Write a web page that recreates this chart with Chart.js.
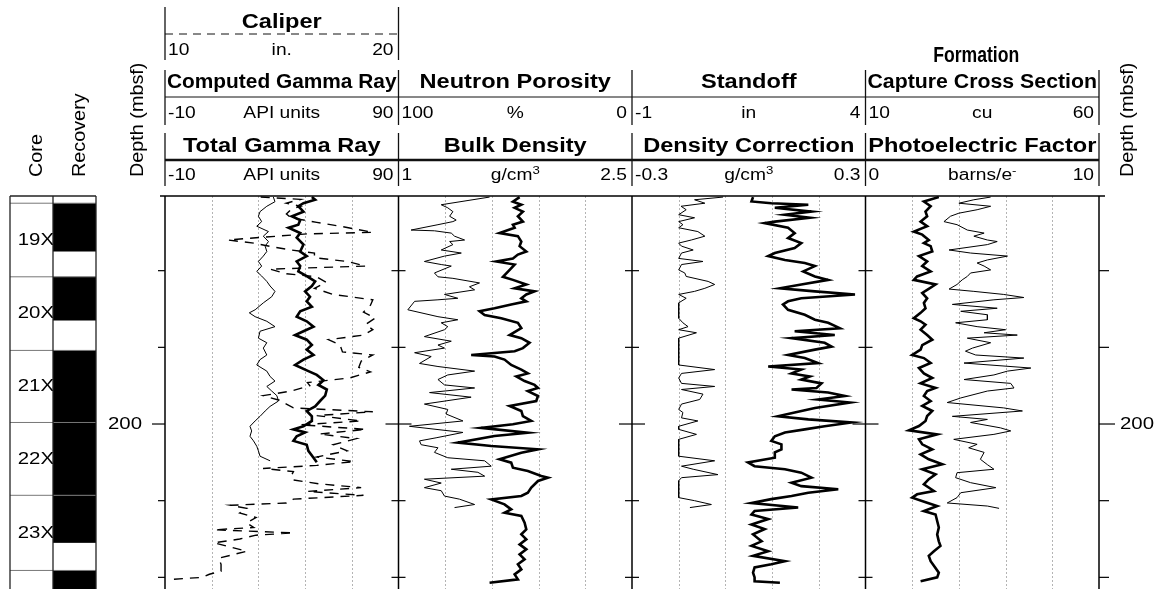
<!DOCTYPE html>
<html>
<head>
<meta charset="utf-8">
<script src="https://cdn.jsdelivr.net/npm/chart.js@4.4.1/dist/chart.umd.min.js"></script>
<style>
  html, body { margin: 0; padding: 0; background: #fff; }
  canvas { display: block; }
</style>
</head>
<body>
<canvas id="logChart" width="1168" height="589"></canvas>
<script>
// Depth window and depth ticks (mbsf)
const depthMin = 170.26;
const depthMax = 221.52;
const depthTicks = [170, 180, 190, 200, 210, 220];
const depthLabels = [200];

// Cores and recovered intervals (mbsf)
const coreNames = ['18X', '19X', '20X', '21X', '22X', '23X', '24X'];
const coreTop = [161.6, 171.2, 180.8, 190.4, 199.8, 209.3, 219.1];
const coreBottom = [171.2, 180.8, 190.4, 199.8, 209.3, 219.1, 228.7];
const recoveryBottom = [168.0, 177.5, 186.5, 199.8, 209.3, 215.5, 228.7];

// Track 1 : [depth, value]
const computedGR = [[170.4,36.4],[171.0,37.1],[171.6,33.6],[172.3,30.7],[172.9,30],[173.6,31.4],[174.2,29.3],[174.9,34.3],[175.5,32.1],[176.2,34.3],[176.8,32.9],[177.5,33.6],[178.1,32.1],[178.8,30],[179.4,31.4],[180.1,29.3],[180.7,31.4],[181.4,33.6],[182.0,35],[182.7,37.1],[183.4,35.7],[184.2,32.1],[185.1,28.6],[185.5,26.1],[186.0,28.6],[186.6,33.6],[187.3,37.1],[187.9,30.7],[188.8,30],[189.4,33.6],[190.1,32.1],[191.0,33.6],[191.6,30.7],[192.3,29.3],[193.1,33.6],[193.8,35],[194.4,37.1],[195.1,33.6],[195.7,35.7],[196.3,37.9],[197.0,38.6],[197.7,35],[198.3,32.9],[199.0,30.7],[199.6,28.6],[200.3,26.4],[200.9,27.1],[201.6,26.4],[202.2,27.9],[202.9,29.3],[203.5,30],[204.2,30.7],[204.8,35]];
const totalGR = [[170.4,52.9],[170.75,54.3],[171.2,49.3],[171.6,47.1],[172.3,49.3],[172.9,44.3],[173.4,47.9],[174.0,47.1],[174.4,42.9],[175.1,47.9],[175.7,46.4],[176.6,49.3],[177.5,47.9],[178.1,50.7],[178.8,46.4],[179.4,47.9],[180.1,47.1],[180.7,50.7],[181.4,54.3],[182.0,52.9],[182.7,50],[183.4,52.1],[184.0,50.7],[184.7,52.9],[185.3,47.9],[186.0,46.4],[186.6,50.7],[187.3,53.6],[187.9,49.3],[188.4,45.7],[189.0,50.7],[189.7,52.9],[190.3,50.7],[191.0,53.6],[191.6,49.3],[192.3,45.7],[193.0,50.7],[193.6,55],[194.3,57.9],[194.9,55.7],[195.5,59.3],[196.3,58.6],[197.0,56.4],[197.7,54.3],[198.3,50.7],[199.0,52.9],[199.6,52.9],[200.3,49.3],[200.7,45],[201.1,50],[201.6,46.4],[202.2,45],[202.7,50.7],[203.5,51.4],[204.4,53.6],[205.0,55]];
const caliper = [[170.4,14.1],[170.7,15.8],[171.2,15.2],[171.6,15.8],[172.0,15.4],[172.6,15.2],[173.1,15.4],[173.7,16.5],[174.2,17.5],[175.0,18.9],[175.2,16.1],[175.8,13.5],[176.0,12.7],[176.4,13.8],[176.9,14.6],[177.3,15.4],[177.7,16.4],[178.3,16.4],[178.8,17.8],[179.4,18.6],[179.8,14.5],[180.4,15.2],[180.8,16.5],[181.5,16.9],[182.3,16.4],[183.1,17.2],[183.8,18.9],[184.5,18.8],[185.4,18.5],[186.2,19],[187.0,18.6],[187.7,18.9],[188.4,18.5],[189.0,17],[189.7,17.5],[190.6,17.6],[191.0,18.9],[191.8,18.4],[192.6,18.3],[193.2,18.8],[194.0,17.9],[194.6,16.1],[195.0,16.2],[195.7,15.4],[196.3,14.2],[196.9,14.9],[197.4,15.2],[197.9,15.5],[198.4,18.9],[198.9,16.5],[199.6,18.4],[200.1,15.8],[200.7,18.6],[201.3,16.6],[201.9,18.2],[202.7,17.2],[203.5,17.8],[204.3,16.5],[204.9,18.1],[205.4,16.5],[205.8,14.2],[206.2,15.5],[206.8,15.4],[207.3,15.5],[207.8,16.6],[208.3,18.4],[208.8,16.1],[209.3,18.5],[209.8,15.5],[210.3,15.2],[210.6,12.8],[211.0,13.5],[211.6,13.2],[212.2,13.9],[212.9,13.5],[213.5,13.8],[213.8,12.1],[214.2,15.5],[214.5,13.9],[215.0,13.2],[215.5,12.1],[216.6,13.5],[217.5,12.3],[218.3,12.4],[219.2,12.4],[219.6,11.9],[220.0,11.6],[220.3,10.1]];

// Track 2
const neutronPorosity = [[170.4,61],[171.4,81.7],[171.8,78.9],[172.3,76.7],[172.9,78.1],[173.4,75.3],[173.6,76.7],[174.0,83.1],[174.7,94.6],[174.8,84.6],[175.1,77.4],[175.5,76],[176.0,71.7],[176.2,78.1],[176.6,76.7],[177.3,81.7],[177.7,73.1],[178.1,80.3],[178.8,88.9],[179.2,81.7],[179.4,77.4],[180.3,84.6],[180.8,83.1],[181.0,76.7],[181.6,65.3],[182.1,69.6],[182.5,67.4],[183.1,80.3],[183.6,74.6],[183.8,83.1],[184.0,93.1],[185.1,96],[186.0,83.1],[186.4,74.6],[186.8,81.7],[187.3,78.9],[187.7,80.3],[188.6,88.9],[189.2,77.4],[189.7,83.1],[190.1,80.3],[190.7,93.1],[191.2,86],[192.1,91],[192.5,83.1],[193.1,67.4],[193.6,78.9],[194.2,83.1],[194.9,80.3],[195.3,67.4],[195.9,86.7],[196.5,68.9],[197.4,88.9],[198.1,78.9],[198.7,79.6],[199.6,72.4],[200.3,95.3],[201.1,72.4],[201.8,83.9],[202.2,91],[202.7,90.3],[203.1,83.1],[203.7,84.6],[204.4,78.9],[204.8,63.1],[205.5,60.3],[205.9,77.4],[206.3,66],[206.8,63.1],[207.2,88.9],[207.7,81.7],[208.3,88.9],[208.7,81.7],[209.4,80.3],[209.8,73.9],[210.5,67.4],[210.9,76]];
const bulkDensity = [[170.4,1.778],[171.0,1.735],[171.4,1.789],[171.8,1.746],[172.3,1.799],[172.9,1.767],[173.6,1.799],[174.0,1.735],[174.4,1.746],[175.1,1.649],[175.5,1.767],[176.2,1.789],[176.8,1.778],[177.5,1.821],[177.9,1.767],[178.4,1.735],[178.8,1.628],[179.2,1.746],[179.9,1.714],[180.8,1.671],[181.2,1.735],[181.8,1.821],[182.3,1.746],[182.7,1.874],[183.1,1.821],[183.6,1.789],[184.0,1.821],[184.4,1.724],[184.9,1.617],[185.3,1.521],[185.8,1.553],[186.2,1.66],[186.8,1.767],[187.5,1.789],[188.4,1.714],[188.8,1.789],[189.4,1.842],[190.1,1.799],[190.5,1.746],[191.0,1.467],[191.2,1.617],[191.6,1.681],[192.3,1.724],[192.9,1.789],[193.4,1.831],[193.8,1.757],[194.4,1.81],[194.9,1.874],[195.3,1.896],[195.7,1.831],[196.35,1.896],[197.0,1.885],[197.65,1.714],[198.3,1.789],[198.96,1.799],[199.6,1.853],[200.04,1.735],[200.5,1.531],[201.13,1.831],[201.57,1.617],[202.43,1.381],[202.87,1.596],[203.3,1.896],[203.74,1.789],[204.6,1.649],[205.04,1.724],[205.7,1.735],[206.13,1.831],[206.78,1.917],[207.0,1.96],[207.43,1.896],[208.3,1.853],[208.96,1.831],[209.39,1.789],[209.83,1.596],[210.48,1.681],[211.13,1.724],[211.57,1.681],[212.0,1.789],[212.87,1.81],[213.74,1.821],[214.39,1.789],[215.04,1.821],[215.7,1.778],[216.35,1.821],[217.0,1.778],[217.65,1.81],[218.3,1.767],[218.96,1.789],[219.61,1.746],[220.26,1.767],[220.7,1.585]];

// Track 3
const standoff = [[170.4,0.95],[170.75,0.34],[171.2,0.56],[171.6,0.05],[172.05,0.16],[172.7,0],[173.1,0.34],[173.6,0],[174.0,0.09],[174.4,0],[174.9,0.41],[175.5,0.56],[176.0,0.27],[176.4,0],[176.8,0.06],[177.3,0.31],[177.7,0.06],[178.4,0],[178.8,0.52],[179.2,0.06],[179.9,0],[180.3,0.13],[180.75,0.16],[181.4,0.63],[181.8,0.77],[182.3,0.56],[182.7,0.34],[183.1,0],[183.6,0.16],[184.2,0],[186.2,0],[186.8,0.09],[187.3,0.2],[187.7,0],[188.1,0.38],[188.8,0],[192.3,0],[192.9,0.77],[193.4,0.06],[194.0,0],[194.7,0.06],[195.1,0.77],[195.5,0.06],[196.1,0.52],[196.8,0.45],[197.4,0.06],[198.1,0],[198.5,0.09],[199.2,0.06],[199.6,0.41],[200.3,0],[200.7,0],[201.35,0.38],[202.0,0],[204.2,0],[204.8,0.77],[205.5,0.06],[205.9,0.31],[206.6,0.84],[207.0,0.06],[207.4,0],[209.6,0],[210.0,0.34],[210.5,0.7],[210.9,0.24]];
const densityCorrection = [[170.4,0.011],[170.97,0.007],[171.2,0.058],[171.4,0.153],[171.8,0.067],[172.3,0.161],[172.7,0.093],[173.1,0.157],[173.6,0.067],[173.8,0.041],[174.4,0.101],[175.1,0.118],[175.75,0.101],[176.4,0.135],[177.05,0.118],[177.7,0.067],[178.1,0.05],[178.6,0.093],[179.0,0.144],[179.4,0.17],[180.1,0.14],[180.75,0.17],[181.2,0.204],[181.8,0.135],[182.3,0.08],[182.7,0.17],[183.1,0.273],[183.6,0.135],[184.0,0.101],[184.4,0.088],[185.1,0.101],[185.75,0.144],[186.4,0.17],[186.8,0.204],[187.5,0.234],[187.9,0.118],[188.4,0.221],[188.8,0.11],[189.4,0.195],[189.9,0.213],[190.3,0.17],[191.0,0.101],[191.4,0.144],[192.05,0.178],[192.5,0.05],[192.9,0.135],[193.4,0.11],[193.8,0.157],[194.2,0.135],[194.7,0.187],[195.3,0.174],[195.5,0.11],[195.9,0.204],[196.35,0.247],[196.8,0.178],[197.2,0.26],[197.9,0.17],[198.5,0.118],[199.0,0.075],[199.4,0.153],[199.8,0.264],[200.3,0.195],[200.7,0.144],[201.1,0.093],[201.6,0.067],[202.2,0.058],[202.65,0.084],[203.3,0.084],[203.7,0.067],[204.4,0.067],[205.0,-0.002],[205.5,0.015],[205.9,0.093],[206.35,0.135],[207.0,0.161],[207.65,0.11],[208.1,0.135],[208.5,0.23],[208.96,0.153],[209.4,0.11],[209.8,0.058],[210.3,0.007],[210.9,0.127],[211.35,0.015],[211.8,0.007],[212.4,0.05],[213.1,0.007],[213.7,0.041],[214.4,0.011],[215.3,0.033],[215.9,0.007],[216.6,0.05],[217.2,0.011],[217.9,0.093],[218.3,0.058],[218.7,0.015],[219.4,0.011],[220.0,0.015],[220.5,0.015],[220.7,0.08]];

// Track 4
const captureCrossSection = [[170.4,36.8],[170.75,33.2],[171.2,30],[171.6,36.8],[172.05,33.9],[172.5,30],[172.9,28.2],[173.6,26.8],[174.0,29.6],[174.7,31.8],[175.1,35.4],[175.5,33.2],[176.0,36.1],[176.2,38.2],[176.6,36.1],[177.3,27.9],[177.7,32.5],[178.1,40.4],[178.6,36.1],[179.0,33.9],[179.4,35.4],[179.9,36.8],[180.3,32.5],[180.75,31.8],[181.2,30.7],[181.8,29.6],[182.4,27.9],[182.7,33.2],[183.1,39.6],[183.5,43.9],[183.8,37.5],[184.4,28.6],[184.9,38.2],[185.3,30.4],[185.75,36.1],[186.4,36.1],[186.8,29.3],[187.3,33.9],[187.7,40],[188.1,35.4],[188.4,42.5],[188.8,31.8],[189.4,36.8],[190.1,32.9],[190.5,31.4],[191.0,33.6],[191.4,43.9],[192.05,31.1],[192.7,45.4],[193.1,40.4],[193.6,37.5],[194.2,31.1],[194.7,41.1],[195.3,41.8],[195.7,36.1],[196.6,30.4],[197.2,27.5],[197.9,39.6],[198.3,43.6],[199.0,28.6],[199.4,36.1],[199.8,32.5],[200.5,38.9],[200.9,41.1],[201.35,37.5],[202.0,28.9],[202.65,33.9],[203.1,32.1],[203.7,35.4],[204.6,34.6],[205.3,36.1],[205.9,37.5],[206.35,29.6],[207.0,29.3],[207.65,32.5],[208.3,37.9],[208.96,30.4],[209.6,29.6],[210.3,27.5],[210.7,36.1],[211.0,38.6]];
const photoelectricFactor = [[170.4,3.14],[170.97,2.5],[171.6,2.79],[172.3,2.57],[172.9,2.64],[173.6,2.36],[174.2,2.64],[174.9,2.07],[175.3,2.43],[176.0,2.71],[176.4,2.5],[176.8,2.79],[177.5,2.86],[178.1,2.29],[178.8,2.64],[179.4,2.43],[180.1,2.79],[180.75,2.21],[181.2,2.07],[181.8,3.0],[182.5,2.64],[182.9,2.43],[183.6,2.64],[184.2,2.5],[184.9,2.57],[185.5,2.36],[186.2,2.07],[186.6,2.36],[187.05,2.57],[187.7,2.36],[188.4,2.64],[189.0,2.86],[189.7,2.43],[190.3,2.36],[191.0,2.0],[191.4,2.5],[192.05,2.79],[192.7,2.29],[193.4,2.5],[194.0,2.86],[194.7,2.36],[195.3,3.0],[195.7,2.64],[196.35,2.5],[197.0,2.79],[197.65,2.43],[198.3,2.86],[198.96,2.64],[199.6,2.57],[200.26,2.29],[200.83,1.86],[201.35,3.07],[202.0,2.29],[202.65,2.43],[203.3,2.86],[203.96,2.36],[204.6,2.71],[205.26,3.29],[205.9,2.43],[206.57,3.0],[207.2,2.71],[207.87,2.5],[208.74,2.93],[209.17,2.21],[209.6,2.0],[210.26,2.64],[210.7,3.07],[211.35,2.5],[211.8,3.0],[212.65,3.07],[213.5,3.14],[214.4,3.07],[215.3,3.14],[215.9,3.21],[216.6,2.93],[217.2,2.71],[217.9,2.79],[218.5,2.93],[219.4,3.14],[220.0,3.07],[220.5,2.36]];

// Header texts
const caliperHead = { title: 'Caliper', units: ['10', 'in.', '20'] };
const upperTitles = ['Computed Gamma Ray', 'Neutron Porosity', 'Standoff', 'Capture Cross Section'];
const upperUnits = [['-10', 'API units', '90'], ['100', '%', '0'], ['-1', 'in', '4'], ['10', 'cu', '60']];
const lowerTitles = ['Total Gamma Ray', 'Bulk Density', 'Density Correction', 'Photoelectric Factor'];
const lowerUnits = [['-10', 'API units', '90'], ['1', 'g/cm^3', '2.5'], ['-0.3', 'g/cm^3', '0.3'], ['0', 'barns/e^-', '10']];

// gridlines: every fifth of a track, on one axis per track
const gridAxes = [['xgr', [10, 30, 50, 70]], ['xrhob', [1.3, 1.6, 1.9, 2.2]], ['xdrho', [-0.18, -0.06, 0.06, 0.18]], ['xpef', [2, 4, 6, 8]]];

const FONT = '"Liberation Sans", Arial, sans-serif';

// a scale whose [left, right] range fills track i of the four
function trackAxis(i, left, right) {
  const span = right - left;
  const a = left - i * span, b = right + (3 - i) * span;
  return { type: 'linear', display: false, min: Math.min(a, b), max: Math.max(a, b), reverse: a > b };
}

function toPoints(arr) {
  return arr.map(p => ({ x: p[1], y: p[0] }));
}

// stretched text helper
function txt(ctx, s, x, y, font, align, sx, maxW) {
  ctx.save();
  ctx.font = font;
  ctx.textAlign = align || 'center';
  ctx.textBaseline = 'alphabetic';
  ctx.translate(x, y);
  ctx.scale(sx || 1.18, 1);
  if (maxW) ctx.fillText(s, 0, 0, maxW / (sx || 1.18));
  else ctx.fillText(s, 0, 0);
  ctx.restore();
}

// centred unit label, "a^b" puts b as superscript
function unitTxt(ctx, s, cx, y) {
  const sx = 1.2;
  const parts = s.split('^');
  ctx.save();
  ctx.font = '16px ' + FONT;
  const w1 = ctx.measureText(parts[0]).width;
  ctx.font = '11px ' + FONT;
  const w2 = parts[1] ? ctx.measureText(parts[1]).width : 0;
  ctx.restore();
  const x0 = cx - (w1 + w2) * sx / 2;
  txt(ctx, parts[0], x0, y, '16px ' + FONT, 'left', sx);
  if (parts[1]) txt(ctx, parts[1], x0 + w1 * sx, y - 6, '11px ' + FONT, 'left', sx);
}

function vtxt(ctx, s, x, y) {
  ctx.save();
  ctx.font = '18px ' + FONT;
  ctx.textAlign = 'left';
  ctx.textBaseline = 'middle';
  ctx.translate(x, y);
  ctx.rotate(-Math.PI / 2);
  ctx.scale(1.1, 1);
  ctx.fillText(s, 0, 0);
  ctx.restore();
}

function line(ctx, x0, y0, x1, y1) {
  ctx.beginPath();
  ctx.moveTo(x0, y0);
  ctx.lineTo(x1, y1);
  ctx.stroke();
}

const logFrame = {
  id: 'logFrame',
  beforeDatasetsDraw(chart) {
    const { ctx, chartArea: a, scales } = chart;
    const ys = scales.y;
    const tw = (a.right - a.left) / 4;
    ctx.save();

    // dotted gridlines
    ctx.strokeStyle = '#b4b4b4';
    ctx.lineWidth = 1;
    ctx.setLineDash([2, 2]);
    gridAxes.forEach(([id, vals]) => {
      vals.forEach(v => {
        const x = Math.round(scales[id].getPixelForValue(v)) + 0.5;
        line(ctx, x, a.top, x, a.bottom);
      });
    });
    ctx.setLineDash([]);

    // track borders and top line
    ctx.strokeStyle = '#000';
    ctx.lineWidth = 1.5;
    for (let k = 0; k <= 4; k++) {
      const x = a.left + k * tw;
      line(ctx, x, a.top, x, a.bottom);
    }
    line(ctx, a.left - 5, a.top, a.right + 6, a.top);

    // depth ticks
    ctx.lineWidth = 1.2;
    depthTicks.forEach(d => {
      const y = ys.getPixelForValue(d);
      if (y <= a.top + 1 || y > a.bottom) return;
      const big = depthLabels.includes(d);
      const len = big ? 13 : 7;
      for (let k = 0; k <= 4; k++) {
        const x = a.left + k * tw;
        const x0 = k === 4 ? x : x - len;
        const x1 = k === 0 ? x : x + (k === 4 ? len + 3 : len);
        line(ctx, x0, y, x1, y);
      }
      if (big) {
        ctx.fillStyle = '#000';
        ctx.save();
        ctx.font = '17px ' + FONT;
        ctx.textBaseline = 'middle';
        ctx.textAlign = 'right';
        ctx.translate(a.left - 23, y);
        ctx.scale(1.2, 1);
        ctx.fillText(String(d), 0, 0);
        ctx.restore();
        ctx.save();
        ctx.font = '17px ' + FONT;
        ctx.textBaseline = 'middle';
        ctx.textAlign = 'left';
        ctx.translate(a.right + 21, y);
        ctx.scale(1.2, 1);
        ctx.fillText(String(d), 0, 0);
        ctx.restore();
      }
    });

    // core and recovery columns
    const cx0 = 10, cx1 = 53, cx2 = 96;
    ctx.save();
    ctx.beginPath();
    ctx.rect(cx0, a.top, cx2 - cx0, a.bottom - a.top);
    ctx.clip();
    ctx.fillStyle = '#000';
    coreNames.forEach((name, i) => {
      const t = ys.getPixelForValue(coreTop[i]);
      const r = ys.getPixelForValue(recoveryBottom[i]);
      ctx.fillRect(cx1, t, cx2 - cx1, r - t);
    });
    ctx.strokeStyle = '#777';
    ctx.lineWidth = 1;
    coreNames.forEach((name, i) => {
      const t = ys.getPixelForValue(coreTop[i]);
      line(ctx, cx0, t, cx2, t);
      const m = ys.getPixelForValue((coreTop[i] + coreBottom[i]) / 2);
      ctx.fillStyle = '#000';
      ctx.save();
      ctx.font = '17px ' + FONT;
      ctx.textAlign = 'right';
      ctx.textBaseline = 'middle';
      ctx.translate(cx1 + 1, m);
      ctx.scale(1.2, 1);
      ctx.fillText(name, 0, 0);
      ctx.restore();
    });
    ctx.restore();
    ctx.strokeStyle = '#222';
    ctx.lineWidth = 1.3;
    [cx0, cx1, cx2].forEach(x => line(ctx, x, a.top, x, a.bottom));
    line(ctx, cx0, a.top, cx2, a.top);

    ctx.restore();
  },
  afterDraw(chart) {
    const { ctx, chartArea: a } = chart;
    const tw = (a.right - a.left) / 4;
    const bold = 'bold 20px ' + FONT;
    ctx.save();
    ctx.fillStyle = '#000';
    ctx.strokeStyle = '#111';

    // caliper block (track 1 only)
    const L0 = a.left, R0 = a.left + tw;
    ctx.lineWidth = 1.3;
    line(ctx, L0, 7, L0, 60);
    line(ctx, R0, 7, R0, 60);
    txt(ctx, caliperHead.title, (L0 + R0) / 2, 28, bold);
    ctx.lineWidth = 1;
    ctx.setLineDash([8, 6]);
    line(ctx, L0, 34, R0, 34);
    ctx.setLineDash([]);
    txt(ctx, caliperHead.units[0], L0 + 3, 55, '16px ' + FONT, 'left', 1.2);
    unitTxt(ctx, caliperHead.units[1], (L0 + R0) / 2, 55);
    txt(ctx, caliperHead.units[2], R0 - 5, 55, '16px ' + FONT, 'right', 1.2);

    // "Formation" above track 4
    txt(ctx, 'Formation', a.left + 3.5 * tw - 6, 62, 'bold 22px "Liberation Sans Narrow", "Arial Narrow", ' + FONT, 'center', 1.0, 86);

    const rows = [
      { top: 70, bottom: 125, title: 88, rule: 97, units: 118, width: 1, titles: upperTitles, unitSets: upperUnits },
      { top: 133, bottom: 186, title: 152, rule: 160, units: 180, width: 2.6, titles: lowerTitles, unitSets: lowerUnits }
    ];
    rows.forEach(row => {
      ctx.lineWidth = 1.3;
      for (let k = 0; k <= 4; k++) {
        const x = a.left + k * tw;
        line(ctx, x, row.top, x, row.bottom);
      }
      for (let i = 0; i < 4; i++) {
        const L = a.left + i * tw, R = L + tw;
        txt(ctx, row.titles[i], (L + R) / 2, row.title, bold, 'center', 1.18, tw - 4);
        ctx.lineWidth = row.width;
        line(ctx, L, row.rule, R, row.rule);
        const u = row.unitSets[i];
        txt(ctx, u[0], L + 3, row.units, '16px ' + FONT, 'left', 1.2);
        unitTxt(ctx, u[1], (L + R) / 2, row.units);
        txt(ctx, u[2], R - 5, row.units, '16px ' + FONT, 'right', 1.2);
      }
    });

    // rotated column titles
    vtxt(ctx, 'Core', 37, 177);
    vtxt(ctx, 'Recovery', 80, 177);
    vtxt(ctx, 'Depth (mbsf)', 138, 177);
    vtxt(ctx, 'Depth (mbsf)', a.right + 29, 177);
    ctx.restore();
  }
};

function curve(data, axis, width, dash) {
  return {
    data: toPoints(data),
    xAxisID: axis,
    yAxisID: 'y',
    showLine: true,
    borderColor: '#000',
    backgroundColor: '#000',
    borderWidth: width,
    borderDash: dash || [],
    pointRadius: 0,
    tension: 0,
    fill: false
  };
}

new Chart(document.getElementById('logChart'), {
  type: 'scatter',
  data: {
    datasets: [
      curve(caliper, 'xcal', 1.4, [9, 7]),
      curve(computedGR, 'xgr', 1),
      curve(totalGR, 'xgr', 2.6),
      curve(neutronPorosity, 'xnphi', 1),
      curve(bulkDensity, 'xrhob', 2.6),
      curve(standoff, 'xso', 1),
      curve(densityCorrection, 'xdrho', 2.6),
      curve(captureCrossSection, 'xsig', 1),
      curve(photoelectricFactor, 'xpef', 2.6)
    ]
  },
  options: {
    responsive: false,
    animation: false,
    devicePixelRatio: 1,
    layout: { padding: { left: 165, right: 69, top: 196, bottom: 0 } },
    plugins: { legend: { display: false }, tooltip: { enabled: false } },
    scales: {
      x: { display: false },
      y: { type: 'linear', reverse: true, min: depthMin, max: depthMax, display: false },
      xgr: trackAxis(0, -10, 90),
      xcal: trackAxis(0, 10, 20),
      xnphi: trackAxis(1, 100, 0),
      xrhob: trackAxis(1, 1, 2.5),
      xso: trackAxis(2, -1, 4),
      xdrho: trackAxis(2, -0.3, 0.3),
      xsig: trackAxis(3, 10, 60),
      xpef: trackAxis(3, 0, 10)
    }
  },
  plugins: [logFrame]
});
</script>
</body>
</html>
